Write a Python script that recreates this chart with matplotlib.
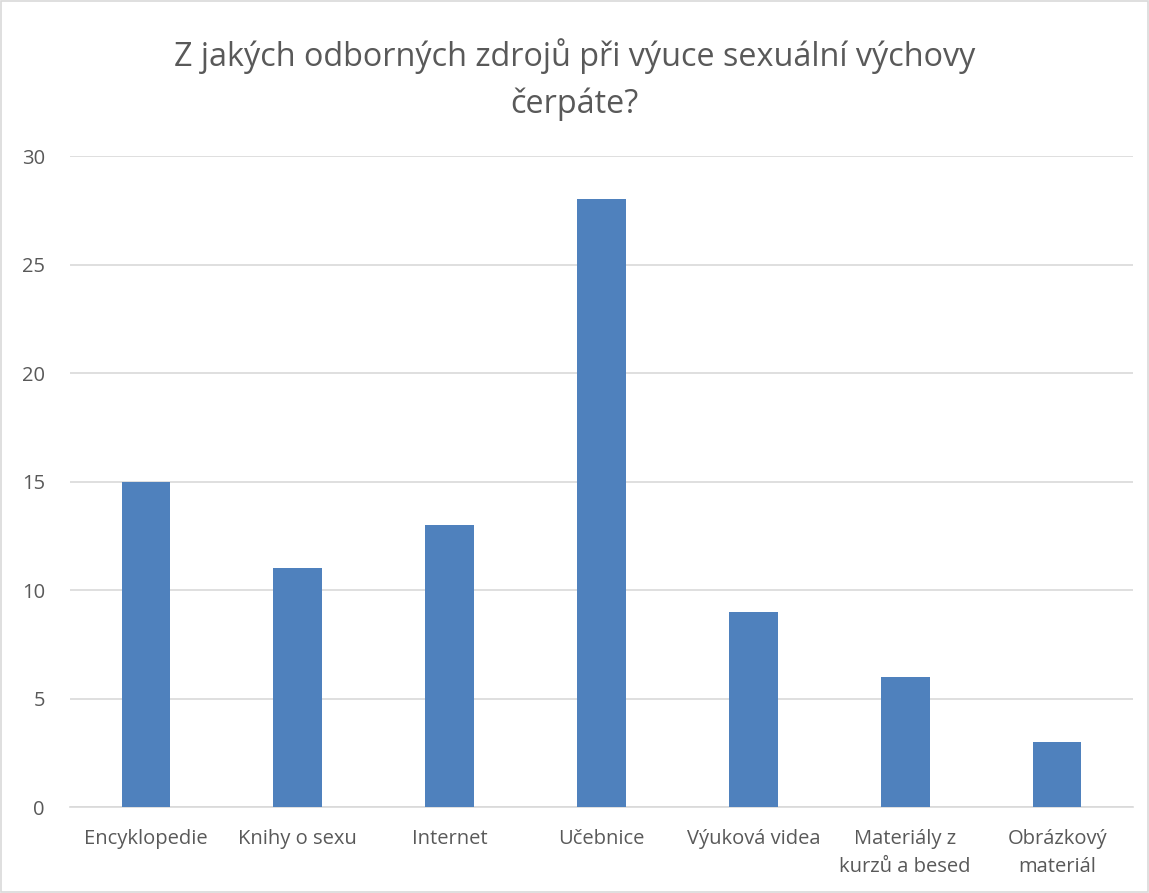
import matplotlib
matplotlib.use("Agg")
import matplotlib.pyplot as plt
from matplotlib.patches import Rectangle

# data
categories = ["Encyklopedie", "Knihy o sexu", "Internet", "Učebnice",
              "Výuková videa", "Materiály z\nkurzů a besed", "Obrázkový\nmateriál"]
values = [15, 11, 13, 28, 9, 6, 3]
yticks = [0, 5, 10, 15, 20, 25, 30]

plt.rcParams['font.family'] = ['Open Sans', 'DejaVu Sans']
text_color = '#595959'

fig = plt.figure(figsize=(11.49, 8.93), dpi=100)
ax = fig.add_axes([0.0609, 0.0963, 0.9252, 0.729])

x = range(len(categories))
ax.bar(x, values, width=0.32, color='#4f81bd', zorder=3)

ax.set_xlim(-0.5, len(categories) - 0.5)
ax.set_ylim(0, 30)
ax.set_yticks(yticks)
ax.set_xticks(list(x))
ax.set_xticklabels(categories, fontsize=14.5, color=text_color, linespacing=1.5)
ax.tick_params(axis='y', labelsize=14.5, labelcolor=text_color, length=0, pad=18)
ax.tick_params(axis='x', length=0, pad=16)
ax.yaxis.grid(True, color='#d9d9d9', linewidth=1.2, zorder=0)

for s in ['top', 'right', 'left']:
    ax.spines[s].set_visible(False)
ax.spines['bottom'].set_color('#d9d9d9')
ax.spines['bottom'].set_linewidth(1.2)

fig.text(0.5, 0.911, "Z jakých odborných zdrojů při výuce sexuální výchovy\nčerpáte?",
         ha='center', va='center', fontsize=23.3, color=text_color, linespacing=1.5)

# chart border
fig.patches.append(Rectangle((0.001, 0.001), 0.998, 0.998, transform=fig.transFigure,
                             fill=False, edgecolor='#d9d9d9', linewidth=1.2))

fig.savefig("out.png", dpi=100)
